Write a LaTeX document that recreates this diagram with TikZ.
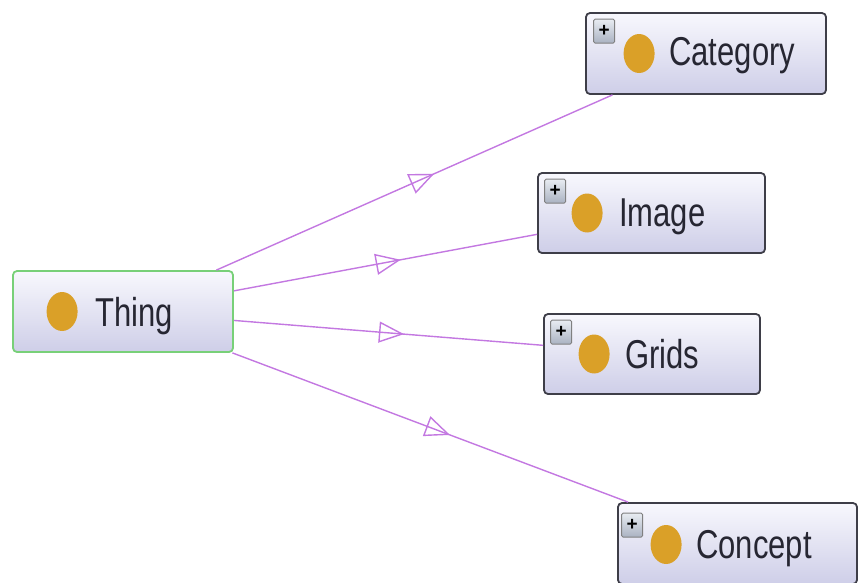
\documentclass[tikz,border=0pt]{standalone}
\usepackage{fontspec}
\setmainfont{Liberation Sans}
\usepackage{graphicx}
\usetikzlibrary{calc,shapes.geometric,arrows.meta,decorations.markings}

\definecolor{isaline}{RGB}{195,120,225}
\definecolor{thinggreen}{RGB}{120,208,120}
\definecolor{boxedge}{RGB}{62,62,72}
\definecolor{boxtop}{RGB}{248,248,253}
\definecolor{boxbot}{RGB}{206,206,232}
\definecolor{dotfill}{RGB}{218,160,40}
\definecolor{labeltext}{RGB}{38,38,50}
\definecolor{plustop}{RGB}{232,236,242}
\definecolor{plusbot}{RGB}{170,178,194}

\newcommand{\stretchlbl}[1]{\scalebox{1}[1.3]{#1}}

\tikzset{
    cls/.style={rectangle, rounded corners=4pt, line width=1.8pt, draw=boxedge,
        top color=boxtop, bottom color=boxbot, minimum height=80pt, inner sep=0pt},
    classdot/.style={ellipse, fill=dotfill, minimum width=31pt, minimum height=39pt, inner sep=0pt},
    lbl/.style={anchor=base west, inner sep=0pt, text=labeltext, font=\fontsize{31}{36}\selectfont},
    plusbox/.style={rectangle, rounded corners=1.5pt, draw=gray, line width=0.8pt,
        top color=plustop, bottom color=plusbot, minimum width=21pt, minimum height=24pt,
        inner sep=0pt, font=\bfseries\fontsize{19}{19}\selectfont},
    isa/.style={draw=isaline, line width=1.4pt, postaction={decorate},
        decoration={markings, mark=at position 0.55 with {\arrow{Triangle[open, length=25pt, width=21pt]}}}}
}

\begin{document}
\begin{tikzpicture}[x=1pt, y=-1pt]
    \path[use as bounding box, clip] (0,0) rectangle (865,582);

    % class boxes
    \node[cls, draw=thinggreen, minimum width=220pt, minimum height=81pt] (thing) at (123,311.5) {};
    \node[cls, minimum width=240pt, minimum height=81pt] (category) at (706,53.5) {};
    \node[cls, minimum width=227pt] (image) at (651.5,213) {};
    \node[cls, minimum width=216pt] (grids) at (652,354) {};
    \node[cls, minimum width=239pt, minimum height=81pt] (concept) at (737.5,543.5) {};

    % dots and labels
    \node[classdot] (thing-dot) at ($(thing.west)+(50,0)$) {};
    \node[lbl] (thing-txt) at ($(thing.west)+(83,14.5)$) {\stretchlbl{Thing}};

    \node[plusbox] (category-plus) at ($(category.north west)+(19,19)$) {+};
    \node[classdot] (category-dot) at ($(category.west)+(54,0)$) {};
    \node[lbl] (category-txt) at ($(category.west)+(84,12)$) {\stretchlbl{Category}};

    \node[plusbox] (image-plus) at ($(image.north west)+(18,19)$) {+};
    \node[classdot] (image-dot) at ($(image.west)+(50,0)$) {};
    \node[lbl] (image-txt) at ($(image.west)+(82,13)$) {\stretchlbl{Image}};

    \node[plusbox] (grids-plus) at ($(grids.north west)+(18,19)$) {+};
    \node[classdot] (grids-dot) at ($(grids.west)+(51,0)$) {};
    \node[lbl] (grids-txt) at ($(grids.west)+(82,14)$) {\stretchlbl{Grids}};

    \node[plusbox] (concept-plus) at ($(concept.north west)+(15,23)$) {+};
    \node[classdot] (concept-dot) at ($(concept.west)+(49,1)$) {};
    \node[lbl] (concept-txt) at ($(concept.west)+(79,15)$) {\stretchlbl{Concept}};

    % is-a edges
    \draw[isa] (thing) -- (category);
    \draw[isa] (thing) -- (image);
    \draw[isa] (thing) -- (grids);
    \draw[isa] (thing) -- (concept);
\end{tikzpicture}
\end{document}
